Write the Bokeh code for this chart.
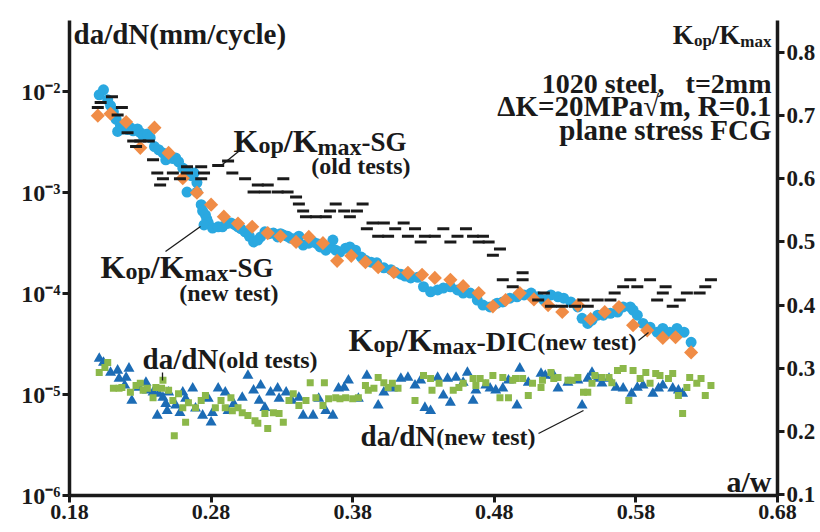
from bokeh.plotting import figure
from bokeh.models import Range1d, LinearAxis, FixedTicker, CustomJSTickFormatter, LinearScale
from bokeh.core.properties import value
from bokeh.embed import file_html
from bokeh.resources import INLINE

FONT = "Liberation Serif"
INK = "#1a1a1a"
BLUE = "#2aa8e0"
ORANGE = "#f08c46"
DBLUE = "#1c6cb5"
GREEN = "#8cb84a"

# ---------------- data ----------------
x_ticks = [0.18, 0.28, 0.38, 0.48, 0.58, 0.68]
left_ticks = [1e-6, 1e-5, 1e-4, 1e-3, 1e-2]
right_ticks = [0.1, 0.2, 0.3, 0.4, 0.5, 0.6, 0.7, 0.8]

# Kop/Kmax - DIC (new test)  (circles)
aw_dic = [0.201, 0.204, 0.207, 0.209, 0.211, 0.213, 0.214, 0.216, 0.218, 0.221,
          0.223, 0.225, 0.228, 0.230, 0.232, 0.235, 0.237, 0.240, 0.243, 0.246,
          0.248, 0.250, 0.253, 0.255, 0.257, 0.260, 0.262, 0.264, 0.266, 0.268,
          0.270, 0.263, 0.270, 0.273, 0.274, 0.276, 0.277, 0.278, 0.275, 0.281,
          0.285, 0.288, 0.291, 0.294, 0.297, 0.299, 0.301, 0.304, 0.307, 0.310,
          0.313, 0.315, 0.318, 0.321, 0.324, 0.327, 0.329, 0.331, 0.334, 0.336,
          0.339, 0.342, 0.345, 0.349, 0.352, 0.355, 0.357, 0.361, 0.364, 0.366,
          0.368, 0.371, 0.375, 0.378, 0.382, 0.386, 0.389, 0.393, 0.397, 0.402,
          0.407, 0.410, 0.414, 0.417, 0.421, 0.426, 0.430, 0.435, 0.440, 0.444,
          0.449, 0.454, 0.458, 0.463, 0.468, 0.472, 0.477, 0.482, 0.486, 0.491,
          0.496, 0.501, 0.506, 0.511, 0.515, 0.520, 0.525, 0.529, 0.534, 0.539,
          0.542, 0.546, 0.549, 0.553, 0.557, 0.562, 0.567, 0.571, 0.576, 0.578,
          0.581, 0.585, 0.590, 0.595, 0.599, 0.604, 0.609, 0.614, 0.619]
kop_dic = [0.733, 0.741, 0.725, 0.716, 0.706, 0.694, 0.675, 0.684, 0.679, 0.678,
           0.681, 0.676, 0.679, 0.673, 0.668, 0.671, 0.665, 0.651, 0.646, 0.641,
           0.630, 0.635, 0.632, 0.633, 0.627, 0.617, 0.611, 0.609, 0.605, 0.609,
           0.594, 0.579, 0.579, 0.559, 0.549, 0.543, 0.536, 0.530, 0.527, 0.522,
           0.524, 0.524, 0.529, 0.530, 0.527, 0.524, 0.521, 0.516, 0.509, 0.500,
           0.503, 0.508, 0.516, 0.513, 0.514, 0.508, 0.513, 0.511, 0.509, 0.506,
           0.505, 0.509, 0.495, 0.498, 0.500, 0.497, 0.492, 0.487, 0.492, 0.503,
           0.487, 0.484, 0.490, 0.492, 0.487, 0.476, 0.471, 0.468, 0.467, 0.459,
           0.456, 0.452, 0.449, 0.446, 0.443, 0.444, 0.429, 0.421, 0.424, 0.427,
           0.429, 0.424, 0.419, 0.419, 0.408, 0.400, 0.397, 0.403, 0.405, 0.411,
           0.413, 0.416, 0.419, 0.413, 0.408, 0.416, 0.413, 0.411, 0.405, 0.397,
           0.379, 0.371, 0.376, 0.384, 0.384, 0.387, 0.389, 0.397, 0.397, 0.392,
           0.384, 0.371, 0.365, 0.357, 0.363, 0.357, 0.363, 0.357, 0.341]

# Kop/Kmax - SG (new test)  (diamonds)
aw_sg_new = [0.200, 0.209, 0.220, 0.230, 0.240, 0.250, 0.260, 0.270, 0.280, 0.289,
             0.299, 0.309, 0.320, 0.329, 0.340, 0.349, 0.359, 0.369, 0.379, 0.389,
             0.398, 0.409, 0.419, 0.429, 0.438, 0.449, 0.458, 0.469, 0.479, 0.488,
             0.498, 0.508, 0.518, 0.528, 0.539, 0.548, 0.558, 0.568, 0.578, 0.588,
             0.599, 0.608, 0.619]
kop_sg_new = [0.700, 0.703, 0.690, 0.649, 0.681, 0.641, 0.601, 0.578, 0.559, 0.540,
              0.529, 0.524, 0.514, 0.509, 0.500, 0.508, 0.498, 0.470, 0.478, 0.468,
              0.460, 0.452, 0.451, 0.448, 0.443, 0.440, 0.430, 0.419, 0.398, 0.408,
              0.419, 0.409, 0.400, 0.389, 0.400, 0.378, 0.389, 0.397, 0.368, 0.360,
              0.348, 0.349, 0.325]

# Kop/Kmax - SG (old tests)  (dashes)
aw_sg_old = [0.210, 0.202, 0.200, 0.217, 0.214, 0.221, 0.225, 0.230, 0.236, 0.227,
             0.239, 0.263, 0.273, 0.285, 0.292, 0.242, 0.253, 0.263, 0.275, 0.295,
             0.246, 0.258, 0.273, 0.304, 0.331, 0.244, 0.313, 0.320, 0.310, 0.318,
             0.327, 0.334, 0.340, 0.342, 0.345, 0.347, 0.354, 0.361, 0.368, 0.387,
             0.364, 0.374, 0.383, 0.378, 0.394, 0.402, 0.416, 0.390, 0.410, 0.424,
             0.444, 0.460, 0.398, 0.405, 0.419, 0.431, 0.438, 0.454, 0.465, 0.472,
             0.428, 0.449, 0.469, 0.476, 0.484, 0.479, 0.486, 0.493, 0.500, 0.500,
             0.511, 0.515, 0.520, 0.528, 0.537, 0.546, 0.543, 0.553, 0.562, 0.565,
             0.571, 0.576, 0.581, 0.590, 0.595, 0.599, 0.601, 0.606, 0.611, 0.616,
             0.625, 0.629, 0.633]
kop_sg_old = [0.730, 0.721, 0.713, 0.713, 0.701, 0.673, 0.660, 0.660, 0.660, 0.651,
              0.630, 0.619, 0.619, 0.621, 0.628, 0.609, 0.609, 0.609, 0.609, 0.609,
              0.600, 0.600, 0.600, 0.600, 0.600, 0.590, 0.590, 0.590, 0.579, 0.579,
              0.579, 0.579, 0.571, 0.560, 0.549, 0.540, 0.540, 0.540, 0.560, 0.560,
              0.549, 0.549, 0.549, 0.540, 0.530, 0.530, 0.530, 0.521, 0.521, 0.521,
              0.521, 0.521, 0.509, 0.509, 0.509, 0.509, 0.509, 0.509, 0.509, 0.509,
              0.500, 0.500, 0.500, 0.500, 0.489, 0.479, 0.440, 0.429, 0.440, 0.451,
              0.408, 0.419, 0.398, 0.398, 0.398, 0.398, 0.408, 0.408, 0.408, 0.419,
              0.429, 0.440, 0.429, 0.440, 0.408, 0.419, 0.429, 0.398, 0.408, 0.419,
              0.419, 0.429, 0.440]

# da/dN (new test)  (triangles), in units of 1e-5 mm/cycle
aw_dadn_new = [0.201, 0.204, 0.209, 0.214, 0.215, 0.220, 0.222, 0.219, 0.224, 0.229,
               0.234, 0.235, 0.239, 0.243, 0.246, 0.248, 0.250, 0.242, 0.249, 0.255,
               0.258, 0.260, 0.262, 0.267, 0.269, 0.274, 0.280, 0.281, 0.278, 0.285,
               0.290, 0.292, 0.296, 0.302, 0.306, 0.310, 0.315, 0.314, 0.318, 0.322,
               0.327, 0.328, 0.333, 0.337, 0.342, 0.345, 0.352, 0.356, 0.361, 0.366,
               0.370, 0.374, 0.377, 0.384, 0.390, 0.398, 0.402, 0.408, 0.414, 0.419,
               0.424, 0.428, 0.431, 0.435, 0.440, 0.444, 0.447, 0.449, 0.453, 0.458,
               0.461, 0.465, 0.467, 0.474, 0.477, 0.481, 0.486, 0.490, 0.496, 0.498,
               0.504, 0.513, 0.516, 0.522, 0.525, 0.532, 0.539, 0.542, 0.546, 0.549,
               0.553, 0.556, 0.561, 0.566, 0.571, 0.577, 0.581, 0.585, 0.592, 0.596,
               0.599, 0.606, 0.610, 0.613]
dadn_new_e5 = [2.27, 2.07, 1.65, 1.73, 1.44, 1.47, 1.81, 1.23, 0.87, 1.17,
               1.31, 1.10, 1.05, 1.02, 0.93, 0.81, 1.05, 0.62, 0.69, 0.78,
               0.66, 1.05, 0.91, 1.15, 0.73, 0.62, 0.53, 0.66, 0.91, 1.15,
               1.05, 0.69, 0.81, 0.93, 1.54, 1.10, 1.23, 0.87, 0.74, 1.05,
               1.15, 0.91, 1.05, 0.87, 0.93, 0.62, 0.62, 0.91, 0.69, 0.62,
               1.15, 1.17, 1.38, 0.91, 1.54, 0.78, 1.05, 1.15, 1.44, 1.47,
               1.23, 1.38, 0.74, 0.69, 1.47, 0.98, 1.44, 0.83, 1.47, 1.31,
               1.65, 0.87, 1.10, 1.23, 1.15, 1.10, 1.15, 1.38, 0.78, 1.81,
               1.31, 1.61, 1.54, 1.54, 1.15, 1.31, 1.38, 0.78, 1.44, 1.65,
               1.44, 1.29, 1.44, 1.17, 1.15, 1.02, 1.17, 1.23, 1.02, 1.15,
               1.23, 1.15, 1.10, 1.02]

# da/dN (old tests)  (squares), in units of 1e-5 mm/cycle
aw_dadn_old = [0.201, 0.205, 0.207, 0.211, 0.215, 0.217, 0.223, 0.227, 0.230, 0.232,
               0.235, 0.239, 0.241, 0.246, 0.245, 0.250, 0.253, 0.254, 0.257, 0.260,
               0.262, 0.264, 0.269, 0.273, 0.276, 0.283, 0.287, 0.290, 0.294, 0.295,
               0.299, 0.302, 0.306, 0.311, 0.313, 0.318, 0.320, 0.324, 0.328, 0.331,
               0.335, 0.338, 0.342, 0.347, 0.350, 0.354, 0.359, 0.360, 0.363, 0.368,
               0.371, 0.375, 0.380, 0.384, 0.389, 0.391, 0.395, 0.398, 0.402, 0.405,
               0.408, 0.412, 0.424, 0.430, 0.435, 0.436, 0.441, 0.451, 0.455, 0.458,
               0.465, 0.467, 0.470, 0.474, 0.479, 0.484, 0.486, 0.490, 0.493, 0.495,
               0.500, 0.504, 0.507, 0.513, 0.514, 0.520, 0.522, 0.525, 0.532, 0.535,
               0.539, 0.543, 0.546, 0.549, 0.551, 0.556, 0.561, 0.563, 0.567, 0.571,
               0.575, 0.578, 0.583, 0.587, 0.590, 0.594, 0.597, 0.603, 0.606, 0.610,
               0.613, 0.616, 0.618, 0.623, 0.626, 0.629, 0.633]
dadn_old_e5 = [1.65, 1.85, 2.07, 1.15, 1.15, 1.17, 1.05, 1.23, 1.29, 1.10,
               1.15, 0.93, 1.17, 1.38, 1.15, 1.10, 0.87, 0.39, 1.02, 0.74,
               0.53, 0.83, 0.74, 0.87, 0.98, 0.74, 0.87, 0.74, 0.93, 0.69,
               0.74, 0.66, 0.62, 0.55, 0.52, 0.65, 0.46, 0.66, 0.65, 0.53,
               0.87, 1.02, 0.78, 0.87, 1.31, 0.93, 0.78, 1.31, 0.91, 0.93,
               0.91, 0.93, 0.91, 0.93, 1.23, 1.10, 1.15, 1.47, 1.31, 1.17,
               1.29, 1.15, 0.87, 1.54, 1.44, 1.10, 1.29, 1.10, 1.17, 1.29,
               1.44, 1.23, 1.44, 1.31, 1.54, 0.93, 1.47, 0.93, 1.38, 1.44,
               1.44, 0.98, 1.29, 1.17, 1.38, 1.65, 1.44, 1.47, 1.38, 1.38,
               1.47, 1.05, 1.05, 1.29, 1.54, 1.47, 1.47, 1.31, 1.73, 1.81,
               0.87, 1.73, 1.44, 1.65, 1.29, 1.61, 1.54, 1.44, 1.61, 0.98,
               0.65, 1.17, 1.47, 1.29, 1.44, 0.98, 1.23]

dadn_new = [v * 1e-5 for v in dadn_new_e5]
dadn_old = [v * 1e-5 for v in dadn_old_e5]

# ---------------- figure ----------------
X0, X1 = 0.18, 0.68
RY0, RY1 = 0.0984, 0.8507
p = figure(width=818, height=530, x_range=Range1d(X0, X1),
           y_range=Range1d(1e-6, 10 ** -1.297), y_axis_type="log",
           output_backend="svg", toolbar_location=None,
           min_border_left=69, min_border_right=41, min_border_top=20,
           min_border_bottom=35)
p.extra_y_ranges = {"right": Range1d(RY0, RY1)}
p.extra_y_scales = {"right": LinearScale()}
raxis = LinearAxis(y_range_name="right")
p.add_layout(raxis, "right")
p.xgrid.grid_line_color = None
p.ygrid.grid_line_color = None
p.outline_line_color = None
p.background_fill_color = "white"
p.border_fill_color = "white"

laxis = p.left[0]
for ax in [p.below[0], laxis, raxis]:
    ax.axis_line_width = 3.5
    ax.axis_line_color = INK
    ax.major_tick_line_width = 3
    ax.major_tick_line_color = INK
    ax.major_tick_out = 7
    ax.major_tick_in = 0
    ax.minor_tick_line_color = None
    ax.major_label_text_font = FONT
    ax.major_label_text_font_style = "bold"
    ax.major_label_text_color = INK
    ax.major_label_text_font_size = "23px"
    ax.major_label_standoff = 2

p.below[0].ticker = FixedTicker(ticks=x_ticks)
p.below[0].formatter = CustomJSTickFormatter(code="return tick.toFixed(2);")
p.below[0].major_label_text_font_size = "22px"
laxis.ticker = FixedTicker(ticks=left_ticks)
laxis.major_label_text_font_size = "24px"
laxis.formatter = CustomJSTickFormatter(code="""
const sup = {"-": "\u207b", "0": "\u2070", "1": "\u00b9", "2": "\u00b2", "3": "\u00b3",
             "4": "\u2074", "5": "\u2075", "6": "\u2076"};
const e = Math.round(Math.log10(tick));
return "10" + String(e).split("").map(c => sup[c]).join("");
""")
raxis.ticker = FixedTicker(ticks=right_ticks)
raxis.formatter = CustomJSTickFormatter(code="return tick.toFixed(1);")

# ---------------- marks ----------------
p.scatter(aw_dadn_new, dadn_new, marker="triangle", size=11,
          fill_color=DBLUE, line_color=None)
p.scatter(aw_dadn_old, dadn_old, marker="square", size=7,
          fill_color=GREEN, line_color=None)
p.scatter(aw_dic, kop_dic, y_range_name="right", marker="circle", size=11,
          fill_color=BLUE, line_color=None)
p.scatter(aw_sg_new, kop_sg_new, y_range_name="right", marker="square",
          angle=0.785398, size=10, fill_color=ORANGE, line_color=None)
p.scatter(aw_sg_old, kop_sg_old, y_range_name="right", marker="dash", size=12,
          line_color=INK, line_width=3)

# ---------------- annotation text (layout helpers, page pixels) ----------------
FL, FR, FT, FB = 69.0, 777.0, 20.0, 495.0


def X(px):
    return X0 + (px - FL) / (FR - FL) * (X1 - X0)


def Y(py):
    return RY0 + (FB - py) / (FB - FT) * (RY1 - RY0)


W = {' ': 250, '(': 333, ')': 333, ',': 250, '-': 333, '.': 250, '/': 278,
     '0': 500, '1': 500, '2': 500, '=': 570, 'C': 722, 'D': 722, 'F': 611,
     'G': 778, 'I': 389, 'K': 778, 'M': 944, 'N': 722, 'P': 611, 'R': 722,
     'S': 556, 'a': 500, 'c': 444, 'd': 556, 'e': 444, 'l': 278, 'm': 833,
     'n': 556, 'o': 500, 'p': 556, 'r': 444, 's': 389, 't': 333, 'w': 722,
     'x': 500, 'y': 500}


def tw(s, size):
    return sum(W.get(c, 500) for c in s) * size / 1000.0


def txt(s, px, py, size, align="left"):
    # baseline correction for the rendered text box
    py = py - 0.3 * size
    p.text(x=[X(px)], y=[Y(py)], text=[s], y_range_name="right",
           text_font=value(FONT), text_font_size=f"{size}px",
           text_font_style="bold", text_color=INK,
           text_align=align, text_baseline="alphabetic")


def rich(parts, px, py, align="left"):
    total = sum(tw(t, s) for t, s, d in parts)
    x = px if align == "left" else px - total
    for t, s, d in parts:
        txt(t, x, py + d, s)
        x += tw(t, s)


def lead(a, b):
    p.segment(x0=[X(a[0])], y0=[Y(a[1])], x1=[X(b[0])], y1=[Y(b[1])],
              y_range_name="right", line_color=INK, line_width=1.3)


NB = "\u00a0"
txt("da/dN(mm/cycle)", 73, 42, 29)
rich([("K", 27, 0), ("op", 17, 2), ("/", 27, 0), ("K", 27, 0), ("max", 17, 3)],
     771, 43, align="right")
txt("1020 steel," + NB * 3 + "t=2mm", 771, 91, 28, align="right")
txt("\u0394K=20MPa\u221am, R=0.1", 771, 114, 29, align="right")
txt("plane stress FCG", 771, 138, 29, align="right")
txt("a/w", 771, 490, 30, align="right")

rich([("K", 32, 0), ("op", 24, 2), ("/", 32, 0), ("K", 32, 0), ("max", 24, 4),
      ("-SG", 27, 0)], 233, 150)
txt("(old tests)", 410, 173, 24, align="right")
lead((222, 164), (238, 151))

rich([("K", 32, 0), ("op", 24, 2), ("/", 32, 0), ("K", 32, 0), ("max", 24, 4),
      ("-SG", 27, 0)], 100, 276)
txt("(new test)", 278, 300, 24, align="right")
lead((165, 251), (200, 226))

rich([("da/dN", 29, 0), ("(old tests)", 24, 0)], 142, 367)
lead((162, 372), (162, 380))

rich([("K", 32, 0), ("op", 24, 2), ("/", 32, 0), ("K", 32, 0), ("max", 24, 4),
      ("-DIC", 28, 0), ("(new test)", 24, 0)], 348, 349)
lead((638, 340), (648, 332))

rich([("da/dN", 29, 0), ("(new test)", 24, 0)], 360, 444)
lead((538, 433), (583, 410))

open("out.html", "w").write(file_html(p, INLINE))
